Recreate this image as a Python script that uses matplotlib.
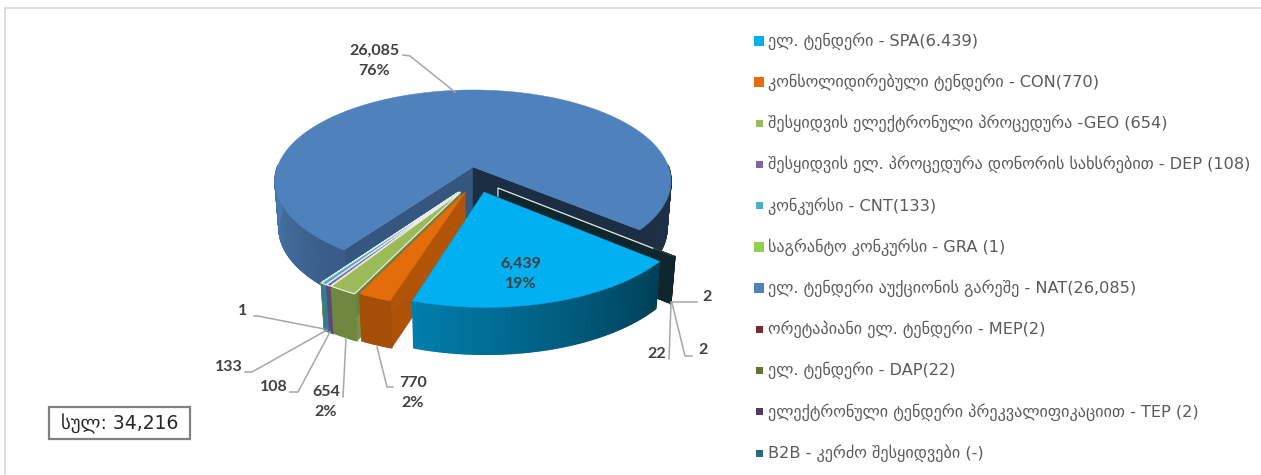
import numpy as np
import matplotlib
matplotlib.use("Agg")
import matplotlib.pyplot as plt
from matplotlib.patches import Polygon, Rectangle
from matplotlib.collections import PolyCollection
from matplotlib.colors import to_rgb

legend_labels = [
  "ელ. ტენდერი - SPA(6.439)",
  "კონსოლიდირებული ტენდერი - CON(770)",
  "შესყიდვის ელექტრონული პროცედურა -GEO (654)",
  "შესყიდვის ელ. პროცედურა დონორის სახსრებით - DEP (108)",
  "კონკურსი - CNT(133)",
  "საგრანტო კონკურსი - GRA (1)",
  "ელ. ტენდერი აუქციონის გარეშე - NAT(26,085)",
  "ორეტაპიანი ელ. ტენდერი - MEP(2)",
  "ელ. ტენდერი - DAP(22)",
  "ელექტრონული ტენდერი პრეკვალიფიკაციით - TEP (2)",
  "B2B - კერძო შესყიდვები (-)",
]
values = [6439, 770, 654, 108, 133, 1, 26085, 2, 22, 2, 0]
colors = ["#00b0f0", "#e46c0a", "#9bbb59", "#8064a2", "#4bacc6", "#92d050",
          "#4f81bd", "#772c2a", "#5f7530", "#4d3b62", "#276a7c"]
total_label = "სულ: 34,216"

# how far each slice is pulled out, in pie radii (sideways, back)
explode_u = [0.054, -0.039, -0.06, -0.065, -0.068, -0.07, 0, 0.123, 0.123, 0.123, 0.123]
explode_v = [-0.27, -0.27, -0.27, -0.27, -0.27, -0.27, 0, -0.228, -0.228, -0.228, -0.228]
white_edge = [False, False, True, True, True, True, False, False, False, False, False]
big_marker = [True, True, False, False, False, True, True, False, False, False, False]

# perspective of the pie, pixels
X0, Y0 = 473, 167
A, B, K = 195.6, 88.9, 0.154
DEPTH = 47
BOTTOM_SCALE = 0.98
START = -40.0

plt.rcParams['font.family'] = ['DejaVu Sans']
fig = plt.figure(figsize=(12.61, 4.75), dpi=100)
ax = fig.add_axes([0, 0, 1, 1])
ax.set_xlim(0, 1261)
ax.set_ylim(475, 0)
ax.axis("off")

def project(u, v):
  w = 1 + K * v
  return X0 + A * u / w, Y0 - B * v / w

def drop(x, y):
  return X0 + (x - X0) * BOTTOM_SCALE, y + DEPTH

def shade(color, f):
  return tuple(c * f for c in to_rgb(color))

def side_shade(deg):
  d = (deg + 180) % 360 - 180
  if d > 90: # just past the left end of the pie
    d = -180
  return np.interp(d, [-180, -130, -108, -40, 0], [0.93, 0.72, 0.72, 0.36, 0.39])

def wall_shade(deg):
  d = (deg + 180) % 360 - 180
  return np.interp(d, [-126, -116, -108, -40], [0.66, 0.78, 0.76, 0.36])

def draw_slice(i, a1, a2, z):
  ex, ey = explode_u[i], explode_v[i]
  n = max(int(abs(a1 - a2)) * 2, 2)
  degs = np.linspace(a1, a2, n)
  x, y = project(np.cos(np.radians(degs)) + ex, np.sin(np.radians(degs)) + ey)
  bx, by = drop(x, y)
  ax0, ay0 = project(ex, ey)
  bx0, by0 = drop(ax0, ay0)

  # the two cut walls
  for k, deg in [(0, a1), (-1, a2)]:
    wall = [(ax0, ay0), (x[k], y[k]), (bx[k], by[k]), (bx0, by0)]
    col = shade(colors[i], wall_shade(deg))
    ax.add_patch(Polygon(wall, closed=True, fc=col, ec=col, lw=0.3, zorder=z))

  # outer side, front part only, one shaded strip per step
  quads, cols = [], []
  for k in range(n - 1):
    mid = (degs[k] + degs[k + 1]) / 2
    if np.sin(np.radians(mid)) > 0.02:
      continue
    quads.append([(x[k], y[k]), (x[k + 1], y[k + 1]), (bx[k + 1], by[k + 1]), (bx[k], by[k])])
    cols.append(shade(colors[i], side_shade(mid)))
  if quads:
    ax.add_collection(PolyCollection(quads, facecolors=cols, edgecolors=cols, linewidths=1.0, zorder=z + 0.1))

  # top face
  top = [(ax0, ay0)] + list(zip(x, y))
  if white_edge[i]:
    ax.add_patch(Polygon(top, closed=True, fc=colors[i], ec="#f2f2f2", lw=0.8, zorder=z + 0.2))
  else:
    ax.add_patch(Polygon(top, closed=True, fc=colors[i], ec=colors[i], lw=0.3, zorder=z + 0.2))
  return (ax0, ay0), (x[0], y[0])

# frame
ax.plot([5, 5], [475, 8], color="#d9d9d9", lw=1.2, zorder=1)
ax.plot([5, 1261], [8, 8], color="#d9d9d9", lw=1.2, zorder=1)

# slices, back and left first so the nearer ones sit on top
total = sum(values)
ends = START - np.cumsum(values) / total * 360
starts = np.concatenate([[START], ends[:-1]])
for z, i in enumerate([6, 7, 8, 9, 10, 5, 4, 3, 2, 1, 0]):
  tip, corner = draw_slice(i, starts[i], ends[i], 5 + z)
  if i == 10:
    # pale rim on the empty B2B slice, stops short of the outer corner
    rim_x = tip[0] + (corner[0] - tip[0]) * 0.88
    rim_y = tip[1] + (corner[1] - tip[1]) * 0.88
    ax.plot([tip[0], tip[0], rim_x], [tip[1] + 8, tip[1], rim_y], color="#e4e8e8", lw=0.9, zorder=5 + z + 0.3)

# leader lines
leaders = [
  [(403, 55), (410, 56), (455, 92)],
  [(254, 316), (258, 316), (324, 329)],
  [(245, 372), (252, 372), (327, 330)],
  [(290, 392), (298, 392), (330, 332)],
  [(343, 397), (346, 338)],
  [(393, 387), (387, 387), (377, 347)],
  [(697, 302), (671, 302)],
  [(692, 356), (685, 356), (672, 303)],
  [(669, 359), (671, 303)],
]
for pts in leaders:
  ax.plot([p[0] for p in pts], [p[1] for p in pts], color="#a6a6a6", lw=1.1, zorder=30)

# data labels
label_font = dict(family="Lato", fontweight="bold", fontsize=11.5, color="#404040",
                  ha="center", va="center", zorder=31, linespacing=1.6)
def pct(i):
  return f"{values[i]:,}\n{values[i] / total * 100:.0f}%"

ax.text(374, 61, pct(6), **label_font)
ax.text(521, 274, pct(0), **label_font)
ax.text(413, 393, pct(1), **label_font)
ax.text(326, 402, pct(2), **label_font)
ax.text(274, 387, f"{values[3]:,}", **label_font)
ax.text(229, 367, f"{values[4]:,}", **label_font)
ax.text(243, 311, f"{values[5]:,}", **label_font)
ax.text(707, 297, f"{values[7]:,}", **label_font)
ax.text(657, 354, f"{values[8]:,}", **label_font)
ax.text(703, 350, f"{values[9]:,}", **label_font)

# legend
for i, name in enumerate(legend_labels):
  yc = 41 + 41.2 * i
  s = 10 if big_marker[i] else 7
  ax.add_patch(Rectangle((759 - s / 2, yc - s / 2), s, s, fc=colors[i], ec="none", zorder=20))
  ax.text(768, yc, name, fontsize=11.6, color="#595959", ha="left", va="center", zorder=20)

# total box
ax.add_patch(Rectangle((49, 407), 141, 32, fc="white", ec="#808080", lw=1.6, zorder=20))
ax.text(119.5, 423.5, total_label, fontsize=13.5, color="#262626", ha="center", va="center", zorder=21)

fig.savefig("out.png", dpi=100, facecolor="white")
